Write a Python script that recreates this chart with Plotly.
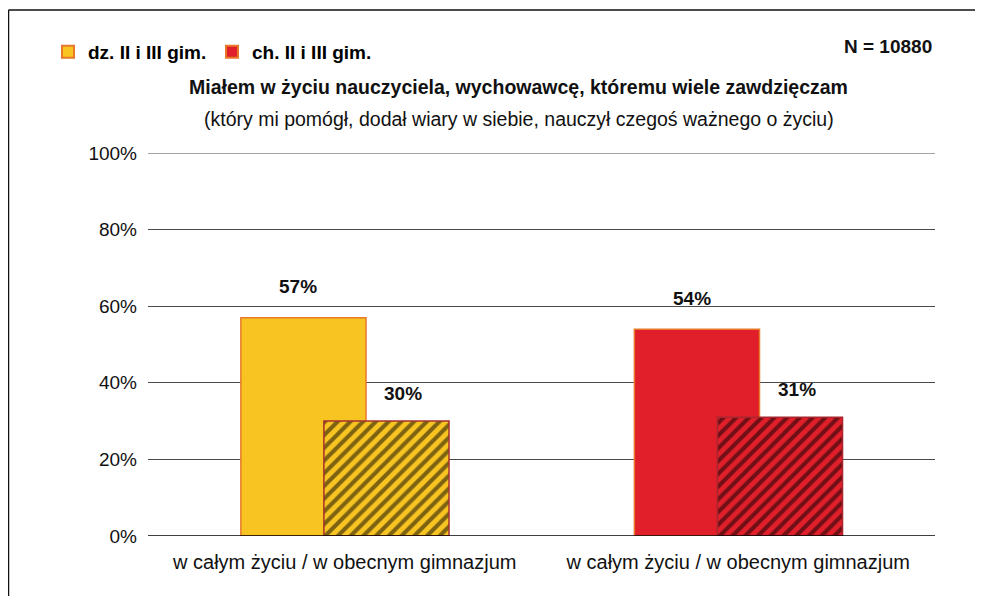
import plotly.graph_objects as go

categories = ["w całym życiu / w obecnym gimnazjum", "w całym życiu / w obecnym gimnazjum"]
cat_pos = [0, 1]
series_names = ["dz. II i III gim.", "ch. II i III gim."]
whole_life = [57, 54]       # w całym życiu (solid)
current_school = [30, 31]   # w obecnym gimnazjum (hatched)
y_ticks = [0, 20, 40, 60, 80, 100]
y_tick_labels = ["0%", "20%", "40%", "60%", "80%", "100%"]

fill_colors = ["#F8C422", "#E01F2B"]
solid_edge = "#E8782A"
hatch_edge = ["#A8302C", "#A8262E"]

FONT = "Arial, 'Liberation Sans', sans-serif"
W = 0.318
OFF_SOLID = -0.264
OFF_HATCH = -0.053

fig = go.Figure()
for i in range(2):
    fig.add_trace(go.Bar(
        x=[cat_pos[i]], y=[whole_life[i]], name=f"<b>{series_names[i]}</b>",
        width=[W], offset=[OFF_SOLID],
        marker=dict(color=fill_colors[i], line=dict(color=solid_edge, width=1.5)),
        showlegend=True, legendrank=i + 1, hoverinfo="skip",
    ))
    fig.add_trace(go.Bar(
        x=[cat_pos[i]], y=[current_school[i]], name=series_names[i] + " (obecne gimnazjum)",
        width=[W], offset=[OFF_HATCH],
        marker=dict(color=fill_colors[i], line=dict(color=hatch_edge[i], width=1.5),
                    pattern=dict(shape="/", fgcolor="#000000", bgcolor=fill_colors[i],
                                 size=9, solidity=0.45, fillmode="overlay")),
        showlegend=False, hoverinfo="skip",
    ))

annotations = []
for i in range(2):
    annotations.append(dict(
        x=cat_pos[i] + OFF_SOLID + W / 2, y=whole_life[i], xref="x", yref="y",
        text=f"<b>{whole_life[i]}%</b>", showarrow=False, xshift=-5, yshift=31,
        yanchor="middle", font=dict(family=FONT, size=19, color="#111111"),
    ))
    annotations.append(dict(
        x=cat_pos[i] + OFF_HATCH + W / 2, y=current_school[i], xref="x", yref="y",
        text=f"<b>{current_school[i]}%</b>", showarrow=False, xshift=17, yshift=28,
        yanchor="middle", font=dict(family=FONT, size=19, color="#111111"),
    ))

# titles (paper coords: plot area spans x 148..935 px, y 153..536 px on screen)
annotations.append(dict(
    x=(518 - 148) / 787, y=(536 - 87) / 383, xref="paper", yref="paper",
    text="<b>Miałem w życiu nauczyciela, wychowawcę, któremu wiele zawdzięczam</b>",
    showarrow=False, xanchor="center", yanchor="middle",
    font=dict(family=FONT, size=19.5, color="#111111"),
))
annotations.append(dict(
    x=(519 - 148) / 787, y=(536 - 119) / 383, xref="paper", yref="paper",
    text="(który mi pomógł, dodał wiary w siebie, nauczył czegoś ważnego o życiu)",
    showarrow=False, xanchor="center", yanchor="middle",
    font=dict(family=FONT, size=19.5, color="#111111"),
))
annotations.append(dict(
    x=(934 - 148) / 787, y=(536 - 46) / 383, xref="paper", yref="paper",
    text="<b>N = 10880</b>", showarrow=False, xanchor="right", yanchor="middle",
    font=dict(family=FONT, size=19, color="#111111"),
))

shapes = [
    # outer frame: top and left edges
    dict(type="line", xref="paper", yref="paper",
         x0=(8.5 - 148) / 787, x1=(995 - 148) / 787,
         y0=(536 - 10) / 383, y1=(536 - 10) / 383,
         line=dict(color="#111111", width=1.5)),
    dict(type="line", xref="paper", yref="paper",
         x0=(8.5 - 148) / 787, x1=(8.5 - 148) / 787,
         y0=(536 - 10) / 383, y1=(536 - 620) / 383,
         line=dict(color="#111111", width=1.5)),
    # top gridline and baseline
    dict(type="line", xref="paper", yref="y", x0=0, x1=1, y0=100, y1=100,
         line=dict(color="#4a4a4a", width=1)),
    dict(type="line", xref="paper", yref="y", x0=0, x1=1, y0=0, y1=0,
         line=dict(color="#000000", width=1.5)),
]

fig.update_layout(
    width=983, height=596,
    margin=dict(l=140, r=56, t=145, b=68),
    paper_bgcolor="white", plot_bgcolor="white",
    barmode="overlay",
    font=dict(family=FONT, color="#111111"),
    xaxis=dict(range=[-0.5, 1.5], tickvals=cat_pos, ticktext=categories,
               showgrid=False, zeroline=False, showline=False, ticks="",
               tickfont=dict(family=FONT, size=20, color="#111111"), ticklabelstandoff=12),
    yaxis=dict(range=[0, 100], tickvals=y_ticks, ticktext=y_tick_labels,
               showgrid=True, gridcolor="#4a4a4a", gridwidth=1,
               zeroline=False, showline=False, ticks="",
               tickfont=dict(family=FONT, size=19, color="#111111"), ticklabelstandoff=10),
    legend=dict(orientation="h", x=(48 - 148) / 787, y=(536 - 52) / 383,
                xanchor="left", yanchor="middle", bgcolor="rgba(0,0,0,0)",
                font=dict(family=FONT, size=19, color="#000000"),
                itemsizing="constant", traceorder="normal",
                entrywidth=119, entrywidthmode="pixels"),
    annotations=annotations,
    shapes=shapes,
)

fig.write_html("out.html")
